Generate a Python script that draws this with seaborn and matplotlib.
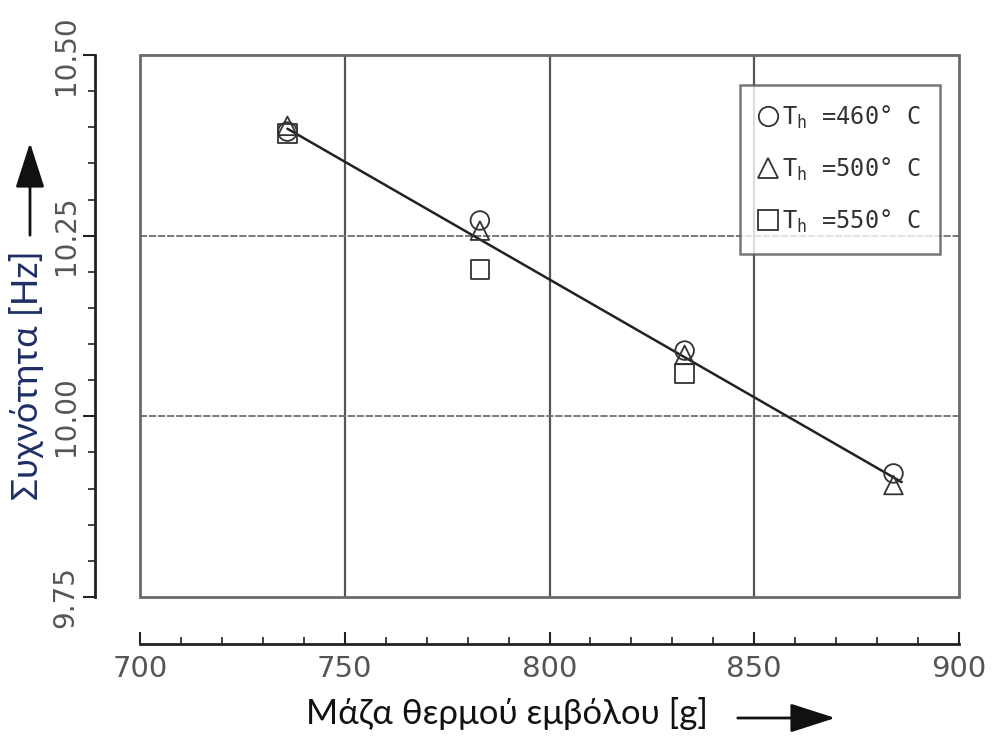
import numpy as np
import pandas as pd
import matplotlib
matplotlib.use("Agg")
import matplotlib.pyplot as plt
import seaborn as sns
from matplotlib.lines import Line2D
from matplotlib.patches import Rectangle, FancyArrowPatch
from matplotlib.ticker import MultipleLocator

# ---- data ----
x_460 = [736, 783, 833, 884]
f_460 = [10.394, 10.271, 10.091, 9.921]
x_500 = [736, 783, 833, 884]
f_500 = [10.402, 10.257, 10.085, 9.905]
x_550 = [736, 783, 833]
f_550 = [10.391, 10.203, 10.059]
fit_x = [736, 886]
fit_y = [10.398, 9.909]
legend_labels = [r"T$_\mathregular{h}$ =460° C", r"T$_\mathregular{h}$ =500° C", r"T$_\mathregular{h}$ =550° C"]
x_ticks = [700, 750, 800, 850, 900]
y_ticks = [9.75, 10.00, 10.25, 10.50]
xlabel = "Μάζα θερμού εμβόλου [g]"
ylabel = "Συχνότητα [Hz]"

sns.set_theme(style="white")
plt.rcParams['font.family'] = ['DejaVu Sans']
plt.rcParams['mathtext.default'] = 'regular'

fig = plt.figure(figsize=(9.92, 7.45), dpi=100)
ax = fig.add_axes([140/992, 1-597/745, (959-140)/992, (597-55)/745])
ax.set_xlim(700, 900)
ax.set_ylim(9.75, 10.50)

# grid lines
for gx in [750, 800, 850]:
    ax.axvline(gx, color="#555555", lw=1.6, zorder=1)
for gy in [10.00, 10.25]:
    ax.axhline(gy, color="#707070", lw=1.3, ls=(0, (4, 1)), zorder=1)

# frame
ax.add_patch(Rectangle((0, 0), 1, 1, transform=ax.transAxes, fill=False,
                       ec="#6a6a6a", lw=2, clip_on=False, zorder=2))

# fit line
sns.lineplot(x=fit_x, y=fit_y, ax=ax, color="#222222", lw=1.8, zorder=3)

mk = dict(s=180, facecolors="none", edgecolors="#333333", linewidths=1.3, zorder=4, legend=False)
sns.scatterplot(x=x_460, y=f_460, marker="o", ax=ax, **mk)
sns.scatterplot(x=x_500, y=f_500, marker="^", ax=ax, **mk)
sns.scatterplot(x=x_550, y=f_550, marker="s", ax=ax, **mk)

# spines
for s in ["top", "right"]:
    ax.spines[s].set_visible(False)
ax.spines["left"].set_position(("outward", 45*0.72))
ax.spines["bottom"].set_position(("outward", 47*0.72))
ax.spines["left"].set_color("#222222")
ax.spines["bottom"].set_color("#222222")
ax.spines["left"].set_linewidth(2)
ax.spines["bottom"].set_linewidth(2)
ax.spines["left"].set_bounds(9.75, 10.50)
ax.spines["bottom"].set_bounds(700, 900)

ax.set_xticks(x_ticks)
ax.set_yticks(y_ticks)
ax.set_yticklabels([f"{v:.2f}" for v in y_ticks])
ax.xaxis.set_minor_locator(MultipleLocator(10))
ax.yaxis.set_minor_locator(MultipleLocator(0.05))
ax.tick_params(axis="x", which="major", direction="in", length=9, width=1.5,
               color="#222222", labelsize=21, labelcolor="#555555", pad=8, bottom=True)
ax.tick_params(axis="x", which="minor", direction="in", length=5, width=1.2,
               color="#222222", bottom=True)
ax.tick_params(axis="y", which="major", direction="out", length=9, width=1.5,
               color="#222222", labelsize=20, labelcolor="#555555", pad=2, left=True)
ax.tick_params(axis="y", which="minor", direction="out", length=5, width=1.2,
               color="#222222", left=True)
for t in ax.get_yticklabels():
    t.set_rotation(90)
    t.set_va("center")
ax.set_xlabel("")
ax.set_ylabel("")

# legend
handles = [Line2D([], [], ls="none", marker=m, ms=14, mfc="none", mec="#333333", mew=1.3)
           for m in ["o", "^", "s"]]
leg = ax.legend(handles, legend_labels, loc="upper right", bbox_to_anchor=(0.977, 0.945),
                borderaxespad=0, frameon=True, fancybox=False, handlelength=0.8,
                handletextpad=0.2, labelspacing=1.05, borderpad=0.8,
                prop={"family": "DejaVu Sans Mono", "size": 17})
leg.get_frame().set_edgecolor("#555555")
leg.get_frame().set_linewidth(1.8)
for t in leg.get_texts():
    t.set_color("#333333")

# axis titles and arrows
fig.text(27/992, 1-375/745, ylabel, rotation=90, ha="center", va="center",
         fontsize=26, color="#1f2f66", family="Lato")
fig.text(507/992, 1-713/745, xlabel, ha="center", va="center",
         fontsize=25, color="#111111", family="Lato")
fig.add_artist(FancyArrowPatch((30/992, 1-238/745), (30/992, 1-140/745),
                               transform=fig.transFigure,
                               arrowstyle="-|>,head_length=1.4,head_width=0.45",
                               mutation_scale=20, lw=2, color="#111111"))
fig.add_artist(FancyArrowPatch((735/992, 1-718/745), (838/992, 1-718/745),
                               transform=fig.transFigure,
                               arrowstyle="-|>,head_length=1.4,head_width=0.45",
                               mutation_scale=20, lw=2, color="#111111"))

fig.savefig("out.png", dpi=100, facecolor="white")
